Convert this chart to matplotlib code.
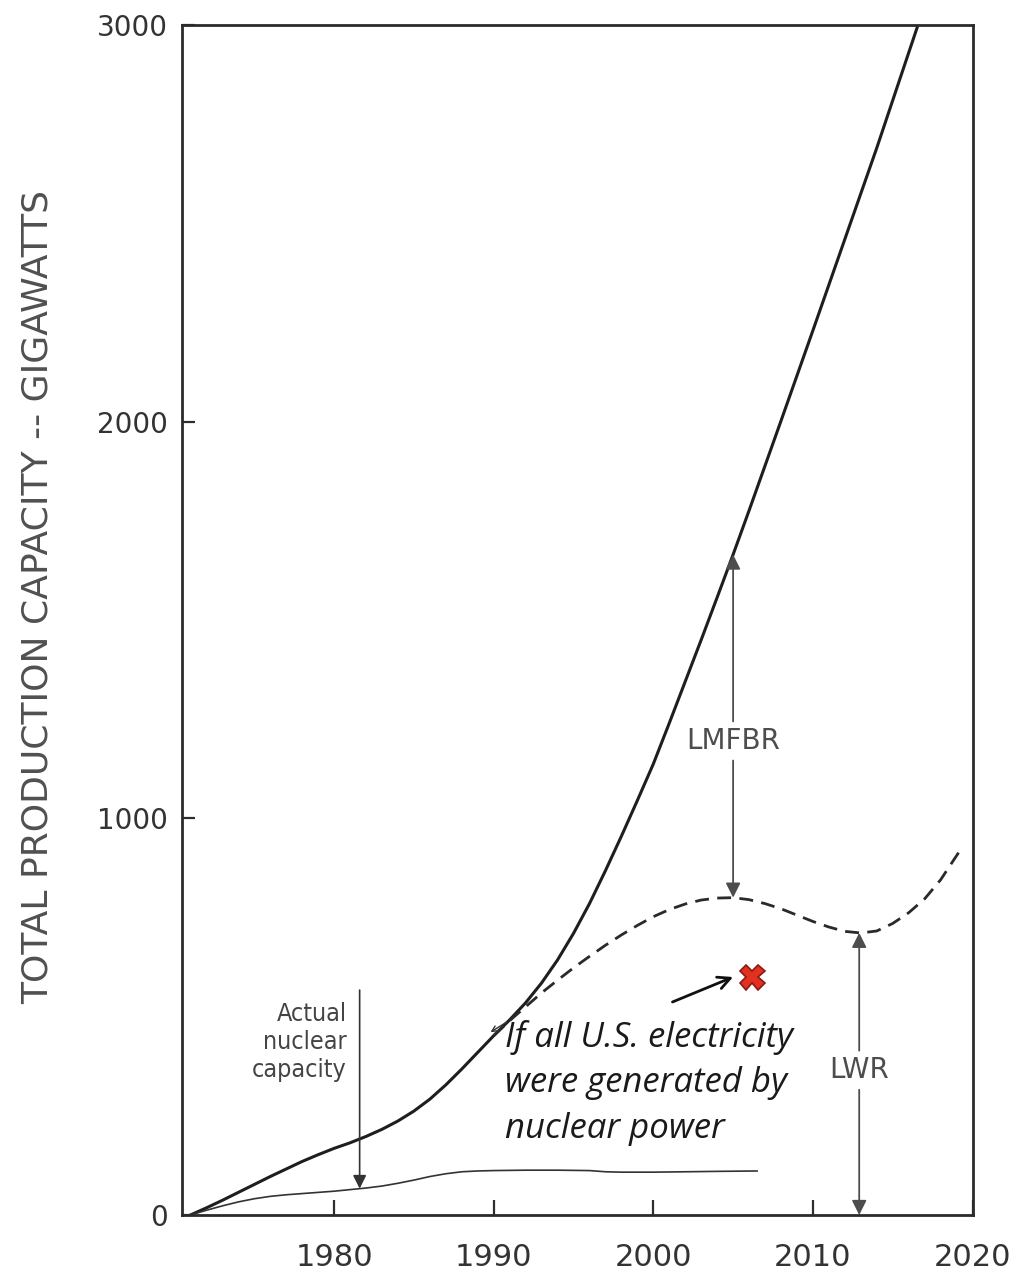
import numpy as np
import matplotlib
matplotlib.use("Agg")
import matplotlib.pyplot as plt

# projected total capacity (LMFBR + LWR), GW
total_years = [1971, 1972, 1973, 1974, 1975, 1976, 1977, 1978, 1979, 1980,
               1981, 1982, 1983, 1984, 1985, 1986, 1987, 1988, 1989, 1990,
               1991, 1992, 1993, 1994, 1995, 1996, 1997, 1998, 1999, 2000,
               2001, 2002, 2003, 2004, 2005, 2006, 2008, 2010, 2012, 2014,
               2016, 2017]
total_gw = [0, 18, 37, 57, 77, 97, 116, 135, 152, 168,
            182, 198, 216, 237, 262, 292, 328, 368, 410, 452,
            492, 535, 585, 643, 710, 785, 868, 955, 1045, 1137,
            1240, 1345, 1450, 1557, 1665, 1776, 2002, 2230, 2460, 2690,
            2930, 3050]

# LWR share (dashed)
lwr_years = [1990, 1991, 1992, 1993, 1994, 1995, 1996, 1997, 1998, 1999,
             2000, 2001, 2002, 2003, 2004, 2005, 2006, 2007, 2008, 2009,
             2010, 2011, 2012, 2013, 2014, 2015, 2016, 2017, 2018, 2019.2]
lwr_gw = [452, 490, 525, 560, 592, 623, 652, 680, 706, 730,
          752, 770, 784, 794, 799, 800, 795, 785, 772, 756,
          740, 726, 715, 711, 716, 735, 762, 797, 845, 918]

# actual nuclear capacity
actual_years = [1971, 1972, 1973, 1974, 1975, 1976, 1977, 1978, 1979, 1980,
                1981, 1982, 1983, 1984, 1985, 1986, 1987, 1988, 1989, 1990,
                1992, 1994, 1996, 1997, 1998, 2000, 2002, 2004, 2006.5]
actual_gw = [0, 12, 23, 33, 41, 47, 51, 54, 57, 60,
             64, 68, 73, 80, 88, 97, 104, 109, 111, 112,
             113, 113, 112, 109, 108, 108, 109, 110, 111]

# "if all U.S. electricity were nuclear" point
us_all_year = 2006.2
us_all_gw = 600

x_ticks = [1980, 1990, 2000, 2010, 2020]
y_ticks = [0, 1000, 2000, 3000]

fig = plt.figure(figsize=(10.18, 12.82), dpi=100)
ax = fig.add_axes([182 / 1018, 1 - 1215 / 1282, (973 - 182) / 1018, (1215 - 25) / 1282])

ax.plot(total_years, total_gw, color='#1e1e1e', lw=2.2, solid_joinstyle='round')
dashed, = ax.plot(lwr_years, lwr_gw, color='#2a2a2a', lw=2.0)
dashed.set_dashes((5, 3))
ax.plot(actual_years, actual_gw, color='#333333', lw=1.2)

ax.plot([us_all_year], [us_all_gw], marker='X', markersize=18, color='#e2321f',
        markeredgecolor='#8a1a12', markeredgewidth=1.2, linestyle='none')

ax.set_xlim(1970.47, 2020.03)
ax.set_ylim(0, 3000)
ax.set_xticks(x_ticks)
ax.set_yticks(y_ticks)
ax.tick_params(axis='x', direction='in', length=11, width=1.6, pad=20,
               labelsize=22, labelcolor='#333333', color='#2e2e2e')
ax.tick_params(axis='y', direction='in', length=9, width=1.6, pad=10,
               labelsize=20, labelcolor='#333333', color='#2e2e2e')
for sp in ax.spines.values():
    sp.set_linewidth(2.0)
    sp.set_color('#2b2b2b')

fig.text(38 / 1018, 1 - 597 / 1282, 'TOTAL PRODUCTION CAPACITY -- GIGAWATTS',
         rotation=90, ha='center', va='center', fontsize=26, color='#505050')

gray = '#4d4d4d'
arr = dict(arrowstyle='-|>', color=gray, lw=1.3, mutation_scale=22, shrinkB=0)

# LMFBR arrows
lm_year = 2005
lm_top = np.interp(lm_year, total_years, total_gw)
lm_bot = np.interp(lm_year, lwr_years, lwr_gw)
ax.annotate('LMFBR', xy=(lm_year, lm_top), xytext=(lm_year, 1195),
            ha='center', va='center', fontsize=20, color=gray, arrowprops=arr)
ax.annotate('LMFBR', xy=(lm_year, lm_bot), xytext=(lm_year, 1195),
            ha='center', va='center', fontsize=20, color='none', arrowprops=arr)

# LWR arrows
lw_year = 2012.9
lw_top = np.interp(lw_year, lwr_years, lwr_gw)
ax.annotate('LWR', xy=(lw_year, lw_top), xytext=(lw_year, 365),
            ha='center', va='center', fontsize=20, color=gray, arrowprops=arr)
ax.annotate('LWR', xy=(lw_year, 0), xytext=(lw_year, 365),
            ha='center', va='center', fontsize=20, color='none', arrowprops=arr)

# actual capacity label
ac_year = 1981.6
ax.annotate('', xy=(ac_year, np.interp(ac_year, actual_years, actual_gw)),
            xytext=(ac_year, 567),
            arrowprops=dict(arrowstyle='-|>', color='#333333', lw=1.2,
                            mutation_scale=20, shrinkA=0, shrinkB=0))
ax.text(1980.8, 436, 'Actual\nnuclear\ncapacity', ha='right', va='center',
        fontsize=18, color='#444444', linespacing=1.22, fontstretch='condensed')

# U.S. electricity note
ax.text(1990.7, 333, 'If all U.S. electricity\nwere generated by\nnuclear power',
        ha='left', va='center', fontsize=25, style='italic',
        family=['Open Sans', 'DejaVu Sans'], color='#1a1a1a', linespacing=1.45)
ax.annotate('', xy=(2005.0, 600), xytext=(2001.2, 537),
            arrowprops=dict(arrowstyle='->', color='#111111', lw=2,
                            mutation_scale=22, shrinkA=0, shrinkB=0))
ax.annotate('', xy=(1989.8, 461), xytext=(1990.8, 486),
            arrowprops=dict(arrowstyle='->', color='#333333', lw=1,
                            mutation_scale=10, shrinkA=0, shrinkB=0))

fig.savefig('out.png', dpi=100, facecolor='white')
